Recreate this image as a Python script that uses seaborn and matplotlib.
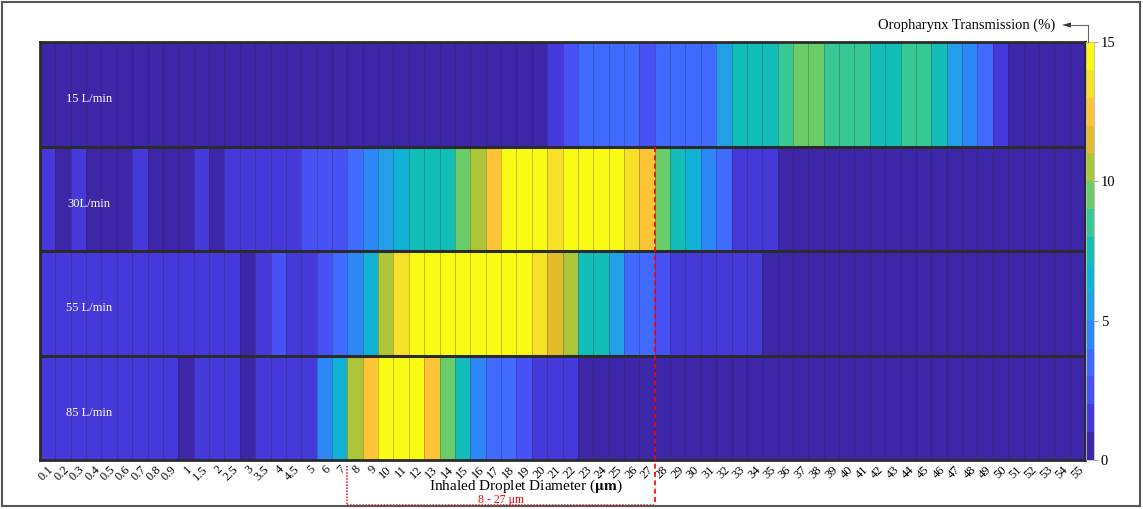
import numpy as np
import pandas as pd
import matplotlib
matplotlib.use("Agg")
import matplotlib.pyplot as plt
from matplotlib.colors import LinearSegmentedColormap, ListedColormap
from matplotlib.patches import Rectangle
import seaborn as sns

# ---------------------------------------------------------------- data
diameters = ["0.1", "0.2", "0.3", "0.4", "0.5", "0.6", "0.7", "0.8", "0.9", "1",
             "1.5", "2", "2.5", "3", "3.5", "4", "4.5", "5", "6", "7",
             "8", "9", "10", "11", "12", "13", "14", "15", "16", "17",
             "18", "19", "20", "21", "22", "23", "24", "25", "26", "27",
             "28", "29", "30", "31", "32", "33", "34", "35", "36", "37",
             "38", "39", "40", "41", "42", "43", "44", "45", "46", "47",
             "48", "49", "50", "51", "52", "53", "54", "55"]

flow_rates = ["15 L/min", "30L/min", "55 L/min", "85 L/min"]

# oropharynx transmission (%) per droplet diameter
trans_15 = [0.4, 0.4, 0.4, 0.4, 0.4, 0.4, 0.4, 0.4, 0.4, 0.4,
            0.4, 0.4, 0.4, 0.4, 0.4, 0.4, 0.4, 0.4, 0.4, 0.4,
            0.4, 0.4, 0.4, 0.4, 0.4, 0.4, 0.4, 0.4, 0.4, 0.4,
            0.4, 0.4, 0.4, 1.5, 2.5, 3.5, 3.5, 3.5, 3.5, 2.6,
            3.5, 3.5, 3.5, 3.5, 5.5, 7.5, 7.5, 7.5, 8.5, 9.5,
            9.5, 8.5, 8.5, 8.5, 7.5, 7.5, 8.5, 8.5, 7.5, 5.5,
            4.5, 3.5, 1.5, 0.4, 0.4, 0.4, 0.4, 0.4]

trans_30 = [1.5, 0.6, 1.5, 0.6, 0.6, 0.7, 1.4, 0.6, 0.6, 0.7,
            1.4, 0.7, 1.5, 1.5, 1.6, 1.5, 1.6, 2.4, 2.5, 2.6,
            3.5, 4.5, 5.5, 6.5, 7.4, 7.5, 7.6, 9.5, 10.5, 12.5,
            14.6, 14.6, 14.5, 13.5, 14.6, 14.7, 14.6, 14.5, 13.5, 12.5,
            9.5, 7.5, 6.5, 4.5, 3.5, 1.5, 1.5, 1.6, 0.4, 0.4,
            0.4, 0.4, 0.4, 0.4, 0.4, 0.4, 0.4, 0.4, 0.4, 0.4,
            0.4, 0.4, 0.4, 0.4, 0.4, 0.4, 0.4, 0.4]

trans_55 = [1.5, 1.5, 1.5, 1.5, 1.5, 1.5, 1.5, 1.5, 1.5, 1.5,
            1.5, 1.5, 1.5, 0.6, 1.5, 2.5, 1.5, 1.6, 2.5, 3.5,
            4.5, 6.5, 10.5, 13.5, 14.6, 14.6, 14.6, 14.6, 14.6, 14.6,
            14.6, 14.6, 13.5, 11.5, 10.5, 7.5, 7.4, 5.5, 3.5, 3.4,
            2.5, 1.5, 1.5, 1.5, 1.5, 1.5, 1.5, 0.4, 0.4, 0.4,
            0.4, 0.4, 0.4, 0.4, 0.4, 0.4, 0.4, 0.4, 0.4, 0.4,
            0.4, 0.4, 0.4, 0.4, 0.4, 0.4, 0.4, 0.4]

trans_85 = [1.5, 1.5, 1.5, 1.5, 1.5, 1.5, 1.5, 1.5, 1.5, 0.6,
            1.5, 1.5, 1.5, 0.6, 1.5, 1.5, 1.5, 1.5, 4.5, 6.5,
            10.5, 12.5, 14.6, 14.7, 14.6, 12.5, 9.5, 7.5, 4.5, 3.5,
            3.5, 2.5, 1.5, 1.5, 1.4, 0.4, 0.4, 0.4, 0.4, 0.4,
            0.4, 0.4, 0.4, 0.4, 0.4, 0.4, 0.4, 0.4, 0.4, 0.4,
            0.4, 0.4, 0.4, 0.4, 0.4, 0.4, 0.4, 0.4, 0.4, 0.4,
            0.4, 0.4, 0.4, 0.4, 0.4, 0.4, 0.4, 0.4]

cbar_ticks = [0, 5, 10, 15]
range_start, range_end = "8", "27"

df = pd.DataFrame([trans_15, trans_30, trans_55, trans_85],
                  index=flow_rates, columns=diameters)

# ---------------------------------------------------------------- colormap (parula, 15 levels)
_parula = [
    [0.2422, 0.1504, 0.6603], [0.2504, 0.1650, 0.7076], [0.2578, 0.1818, 0.7511],
    [0.2647, 0.1978, 0.7952], [0.2706, 0.2147, 0.8364], [0.2751, 0.2342, 0.8710],
    [0.2783, 0.2559, 0.8991], [0.2803, 0.2782, 0.9221], [0.2813, 0.3006, 0.9414],
    [0.2810, 0.3228, 0.9579], [0.2795, 0.3447, 0.9717], [0.2760, 0.3667, 0.9829],
    [0.2699, 0.3892, 0.9906], [0.2602, 0.4123, 0.9952], [0.2440, 0.4358, 0.9988],
    [0.2206, 0.4603, 0.9973], [0.1963, 0.4847, 0.9892], [0.1834, 0.5074, 0.9798],
    [0.1786, 0.5289, 0.9682], [0.1764, 0.5499, 0.9520], [0.1687, 0.5703, 0.9359],
    [0.1540, 0.5902, 0.9218], [0.1460, 0.6091, 0.9079], [0.1380, 0.6276, 0.8973],
    [0.1248, 0.6459, 0.8883], [0.1113, 0.6635, 0.8763], [0.0952, 0.6798, 0.8598],
    [0.0689, 0.6948, 0.8394], [0.0297, 0.7082, 0.8163], [0.0036, 0.7203, 0.7917],
    [0.0067, 0.7312, 0.7660], [0.0433, 0.7411, 0.7394], [0.0964, 0.7500, 0.7120],
    [0.1408, 0.7584, 0.6842], [0.1717, 0.7670, 0.6554], [0.1938, 0.7758, 0.6251],
    [0.2161, 0.7843, 0.5923], [0.2470, 0.7918, 0.5567], [0.2906, 0.7973, 0.5188],
    [0.3406, 0.8008, 0.4789], [0.3909, 0.8029, 0.4354], [0.4456, 0.8024, 0.3909],
    [0.5044, 0.7993, 0.3480], [0.5616, 0.7942, 0.3045], [0.6174, 0.7876, 0.2612],
    [0.6720, 0.7793, 0.2227], [0.7242, 0.7698, 0.1910], [0.7738, 0.7598, 0.1646],
    [0.8203, 0.7498, 0.1535], [0.8634, 0.7406, 0.1596], [0.9035, 0.7330, 0.1774],
    [0.9393, 0.7288, 0.2100], [0.9728, 0.7298, 0.2394], [0.9956, 0.7434, 0.2371],
    [0.9970, 0.7659, 0.2199], [0.9952, 0.7893, 0.2028], [0.9892, 0.8136, 0.1885],
    [0.9786, 0.8386, 0.1766], [0.9676, 0.8639, 0.1643], [0.9610, 0.8890, 0.1537],
    [0.9597, 0.9135, 0.1423], [0.9628, 0.9373, 0.1265], [0.9691, 0.9606, 0.1064],
    [0.9769, 0.9839, 0.0805]]
_smooth = LinearSegmentedColormap.from_list("parula", _parula)
parula15 = ListedColormap(_smooth(np.linspace(0, 1, 15)), name="parula15")

# ---------------------------------------------------------------- figure
plt.rcParams["font.family"] = ["Liberation Serif", "DejaVu Serif"]
plt.rcParams["mathtext.fontset"] = "stix"

W, H = 1143, 509
fig = plt.figure(figsize=(W / 100, H / 100), dpi=100, facecolor="white")

def fx(px):
    return px / W

def fy(py):
    return 1 - py / H

ax_l, ax_r, ax_t, ax_b = 40, 1085, 42, 460
ax = fig.add_axes([fx(ax_l), fy(ax_b), fx(ax_r - ax_l), (ax_b - ax_t) / H])
cax = fig.add_axes([fx(1086), fy(ax_b), fx(8), (ax_b - ax_t) / H])

sns.heatmap(df, ax=ax, cbar_ax=cax, cmap=parula15, vmin=0, vmax=15,
            linewidths=0.6, linecolor=(0.12, 0.12, 0.16, 0.25),
            xticklabels=diameters, yticklabels=False,
            cbar_kws={"ticks": cbar_ticks})

# thick separators between the flow-rate rows and a dark frame
for r in range(1, len(flow_rates)):
    ax.axhline(r, color="#2b2b2b", lw=2.2)
for sp in ax.spines.values():
    sp.set_visible(True)
    sp.set_color("#2b2b2b")
    sp.set_linewidth(2)

# row labels inside the heatmap
for i, name in enumerate(flow_rates):
    ax.text(3.2, i + 0.55, name, color="white", ha="center", va="center",
            fontsize=9)

# x tick labels
ax.set_xticks(np.arange(len(diameters)) + 0.5)
ax.set_xticklabels(diameters, rotation=45, ha="right", va="top",
                   rotation_mode="anchor", fontsize=9)
ax.tick_params(axis="x", length=0, pad=2.5)
ax.tick_params(axis="y", length=0)
ax.set_xlabel("")
ax.set_ylabel("")

fig.text(fx(526), fy(486), r"Inhaled Droplet Diameter ($\mathbf{\mu m}$)",
         ha="center", va="center", fontsize=11)

# highlighted diameter range
i0 = diameters.index(range_start)
i1 = diameters.index(range_end) + 1
y_bottom = (505 - ax_t) / (ax_b - ax_t) * len(flow_rates)
y_tick = (466 - ax_t) / (ax_b - ax_t) * len(flow_rates)
ax.plot([i1, i1], [1, y_bottom], color="red", lw=1.2,
        ls=(0, (3, 2)), clip_on=False, zorder=5)
ax.plot([i0, i0], [y_tick, y_bottom], color="red", lw=1.1, ls=(0, (1, 1)),
        clip_on=False, zorder=5)
ax.plot([i0, i1], [y_bottom, y_bottom], color="red", lw=1.1, ls=(0, (1, 1)),
        clip_on=False, zorder=5)
ax.text((i0 + i1) / 2, y_bottom + 0.005, f"{range_start} - {range_end} μm",
        color="red", ha="center", va="bottom", fontsize=8.5, clip_on=False)

# colour bar styling
cbar = ax.collections[0].colorbar
cbar.outline.set_edgecolor("#bbbbbb")
cbar.outline.set_linewidth(0.6)
cax.tick_params(length=3, width=0.6, color="#888888", pad=2, labelsize=10.5)

fig.text(fx(1055), fy(25), "Oropharynx Transmission (%)", ha="right",
         va="center", fontsize=10.5)
fig.add_artist(plt.Line2D([fx(1088), fx(1088)], [fy(42), fy(25)],
                          color="#666666", lw=0.8))
fig.add_artist(plt.Line2D([fx(1088), fx(1070)], [fy(25), fy(25)],
                          color="#666666", lw=0.8))
fig.add_artist(plt.Polygon([[fx(1062), fy(25)], [fx(1071), fy(22.5)],
                            [fx(1071), fy(27.5)]], closed=True,
                           color="#333333", lw=0))

# outer frame
fig.add_artist(Rectangle((fx(2), fy(506)), fx(1138), (504) / H,
                         fill=False, edgecolor="#555555", lw=1.5))

fig.savefig("out.png", dpi=100, facecolor="white")
